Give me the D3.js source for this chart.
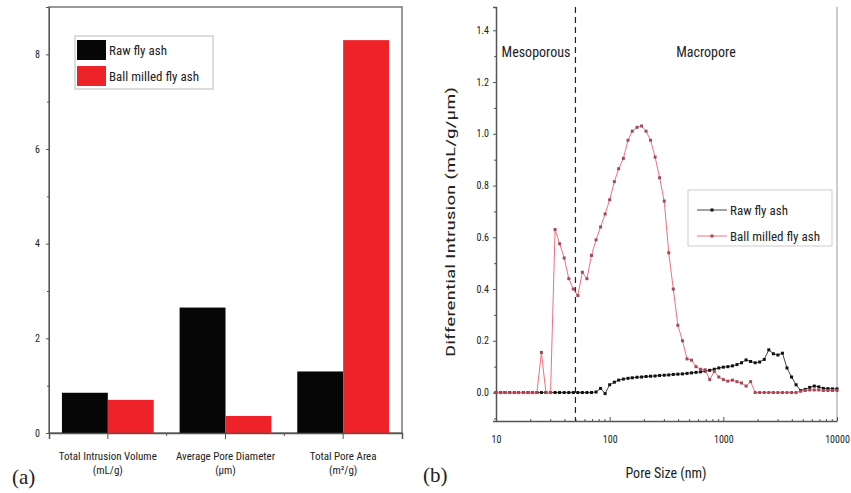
<!DOCTYPE html>
<html>
<head>
<meta charset="utf-8">
<script src="https://cdn.jsdelivr.net/npm/d3@7"></script>
<style>
  body { margin: 0; background: #fff; }
  svg { display: block; }
  text { font-family: "Liberation Sans Narrow", "Arial Narrow", "Roboto Condensed", "Liberation Sans", sans-serif; fill: #222; }
  .axis path, .axis line { stroke: #555; }
</style>
</head>
<body>
<svg width="851" height="493"></svg>
<script>
// panel (a) – bar chart
var categories = ['Total Intrusion Volume', 'Average Pore Diameter', 'Total Pore Area']
var unitLabels = ['(mL/g)', '(\u03bcm)', '(m\u00b2/g)']
var seriesNames = ['Raw fly ash', 'Ball milled fly ash']
var rawValues = [0.85, 2.65, 1.30]
var ballValues = [0.70, 0.36, 8.30]
var barTicks = [0, 2, 4, 6, 8]
var barMinorTicks = [1, 3, 5, 7]

// panel (b) – differential intrusion vs pore size (nm)
var poreSize = [10.0, 11.0, 12.0, 13.2, 14.5, 15.8, 17.4, 19.1, 20.9, 22.9,
  25.1, 27.5, 30.2, 33.1, 36.3, 39.8, 43.7, 47.9, 52.5, 57.5,
  63.1, 69.2, 75.9, 83.2, 91.2, 100, 110, 120, 132, 145,
  158, 174, 191, 209, 229, 251, 275, 302, 331, 363,
  398, 437, 479, 525, 575, 631, 692, 759, 832, 912,
  1000, 1096, 1202, 1318, 1445, 1585, 1738, 1905, 2089, 2291,
  2512, 2754, 3020, 3311, 3631, 3981, 4365, 4786, 5248, 5754,
  6310, 6918, 7586, 8318, 9120, 10000]
var rawIntrusion = [0, 0, 0, 0, 0, 0, 0, 0, 0, 0,
  0, 0, 0, 0, 0, 0, 0, 0, 0, 0,
  0, 0, 0.002, 0.016, -0.004, 0.03, 0.04, 0.048, 0.052, 0.055,
  0.057, 0.059, 0.060, 0.062, 0.063, 0.064, 0.066, 0.067, 0.068, 0.070,
  0.071, 0.072, 0.074, 0.076, 0.078, 0.080, 0.083, 0.086, 0.090, 0.095,
  0.098, 0.100, 0.103, 0.108, 0.115, 0.126, 0.120, 0.115, 0.118, 0.128,
  0.165, 0.150, 0.145, 0.152, 0.095, 0.060, 0.030, 0.008, 0.012, 0.020,
  0.025, 0.022, 0.016, 0.015, 0.014, 0.014]
var ballIntrusion = [0, 0, 0, 0, 0, 0, 0, 0, 0, 0,
  0.155, 0, 0, 0.63, 0.575, 0.52, 0.44, 0.40, 0.375, 0.465,
  0.44, 0.53, 0.59, 0.64, 0.69, 0.745, 0.815, 0.865, 0.905, 0.975,
  1.01, 1.025, 1.03, 1.01, 0.975, 0.91, 0.83, 0.74, 0.54, 0.40,
  0.26, 0.20, 0.13, 0.125, 0.10, 0.09, 0.088, 0.05, 0.082, 0.06,
  0.05, 0.044, 0.048, 0.042, 0.037, 0.025, 0.042, 0, 0, 0,
  0, 0, 0, 0, 0, 0, 0, 0.005, 0.008, 0.01,
  0.01, 0.01, 0.008, 0.008, 0.008, 0.008]
var intrusionTicks = [0, 0.2, 0.4, 0.6, 0.8, 1.0, 1.2, 1.4]
var intrusionMinor = [-0.1, 0.1, 0.3, 0.5, 0.7, 0.9, 1.1, 1.3]
var sizeTicks = [10, 100, 1000, 10000]
var boundary = 50

var colors = ['#060606', '#ee2229']
var svg = d3.select('svg')

// ---------- (a) ----------
var xa = d3.scaleBand().domain(categories).range([49, 402]).paddingInner(0.22).paddingOuter(0.11)
var xs = d3.scaleBand().domain(seriesNames).range([0, xa.bandwidth()])
var ya = d3.scaleLinear().domain([0, 9]).range([433, 7])

var ga = svg.append('g')
ga.append('rect').attr('x', 49).attr('y', 7).attr('width', 353).attr('height', 426)
  .attr('fill', 'none').attr('stroke', '#777').attr('stroke-width', 1.5)

var groups = ga.selectAll('g.grp').data(categories).enter().append('g')
  .attr('transform', (d) => 'translate(' + xa(d) + ',0)')
groups.selectAll('rect').data((d, i) => [rawValues[i], ballValues[i]]).enter()
  .append('rect')
    .attr('x', (d, j) => xs(seriesNames[j]))
    .attr('width', xs.bandwidth())
    .attr('y', (d) => ya(d))
    .attr('height', (d) => ya(0) - ya(d))
    .attr('fill', (d, j) => colors[j])

ga.append('g').attr('class', 'axis').attr('transform', 'translate(49,0)')
  .call(d3.axisLeft(ya).tickValues(barTicks).tickSize(3).tickPadding(6).tickFormat(d3.format('d')))
  .call((g) => g.selectAll('text').style('font-size', '10px'))
ga.append('g').attr('class', 'axis').attr('transform', 'translate(49,0)')
  .call(d3.axisLeft(ya).tickValues(barMinorTicks).tickSize(2).tickFormat(''))

var xaAxis = ga.append('g').attr('class', 'axis').attr('transform', 'translate(0,433)')
  .call(d3.axisBottom(xa).tickSize(6).tickFormat(''))
xaAxis.select('path').attr('stroke-width', 1.5)
// minor ticks between categories
ga.selectAll('line.mt').data(categories.slice(1)).enter().append('line')
  .attr('x1', (d) => xa(d) - xa.step() * xa.paddingInner() / 2)
  .attr('x2', (d) => xa(d) - xa.step() * xa.paddingInner() / 2)
  .attr('y1', 433).attr('y2', 436).attr('stroke', '#555')

ga.selectAll('text.cat').data(categories).enter().append('text')
  .attr('x', (d) => xa(d) + xa.bandwidth() / 2).attr('y', 460)
  .attr('text-anchor', 'middle').style('font-size', '11px').text((d) => d)
ga.selectAll('text.unit').data(unitLabels).enter().append('text')
  .attr('x', (d, i) => xa(categories[i]) + xa.bandwidth() / 2).attr('y', 474)
  .attr('text-anchor', 'middle').style('font-size', '11px').text((d) => d)

var la = ga.append('g')
la.append('rect').attr('x', 75).attr('y', 36).attr('width', 138).attr('height', 53)
  .attr('fill', '#fff').attr('stroke', '#bbb')
seriesNames.forEach((s, i) => {
  la.append('rect').attr('x', 77).attr('y', 40 + i * 26).attr('width', 29).attr('height', 20).attr('fill', colors[i])
  la.append('text').attr('x', 109).attr('y', 55 + i * 26).style('font-size', '13px').text(s)
})

svg.append('text').attr('x', 12).attr('y', 484)
  .style('font-family', '"Liberation Serif", "DejaVu Serif", serif').style('font-size', '21px').text('(a)')

// ---------- (b) ----------
var xb = d3.scaleLog().domain([10, 10000]).range([496, 837])
var yb = d3.scaleLinear().domain([-0.11, 1.49]).range([421, 7])
var gb = svg.append('g')

gb.append('line').attr('x1', 837).attr('x2', 837).attr('y1', 7).attr('y2', 421).attr('stroke', '#999')

gb.append('g').attr('class', 'axis').attr('transform', 'translate(496,0)')
  .call(d3.axisLeft(yb).tickValues(intrusionTicks).tickSize(3).tickPadding(4).tickFormat(d3.format('.1f')))
  .call((g) => g.selectAll('text').style('font-size', '10px'))
  .call((g) => g.select('path').attr('stroke-width', 1.5))
gb.append('g').attr('class', 'axis').attr('transform', 'translate(496,0)')
  .call(d3.axisLeft(yb).tickValues(intrusionMinor).tickSize(2).tickFormat(''))

gb.append('g').attr('class', 'axis').attr('transform', 'translate(0,421)')
  .call(d3.axisBottom(xb).tickValues(sizeTicks).tickSizeInner(-4).tickSizeOuter(0).tickPadding(15).tickFormat(d3.format('d')))
  .call((g) => g.selectAll('text').style('font-size', '10px'))
  .call((g) => g.select('path').attr('stroke-width', 1.5))
gb.append('g').attr('class', 'axis').attr('transform', 'translate(0,421)')
  .call(d3.axisBottom(xb).tickValues(xb.ticks().filter((d) => sizeTicks.indexOf(d) < 0)).tickSizeInner(-2).tickSizeOuter(0).tickFormat(''))
  .call((g) => g.select('path').remove())

gb.append('line').attr('x1', xb(boundary)).attr('x2', xb(boundary)).attr('y1', 7).attr('y2', 421)
  .attr('stroke', '#222').attr('stroke-dasharray', '6,4').attr('stroke-width', 1.2)

gb.append('text').attr('x', 536).attr('y', 57).attr('text-anchor', 'middle')
  .style('font-size', '14px').text('Mesoporous')
gb.append('text').attr('x', 706).attr('y', 57).attr('text-anchor', 'middle')
  .style('font-size', '14px').text('Macropore')

var line = d3.line().x((d) => xb(d[0])).y((d) => yb(d[1]))
var rawPts = poreSize.map((p, i) => [p, rawIntrusion[i]])
var ballPts = poreSize.map((p, i) => [p, ballIntrusion[i]])

gb.append('path').datum(rawPts).attr('d', line).attr('fill', 'none').attr('stroke', '#444').attr('stroke-width', 1)
gb.selectAll('rect.rm').data(rawPts).enter().append('rect')
  .attr('x', (d) => xb(d[0]) - 1.5).attr('y', (d) => yb(d[1]) - 1.5)
  .attr('width', 3).attr('height', 3).attr('fill', '#111')

gb.append('path').datum(ballPts).attr('d', line).attr('fill', 'none').attr('stroke', '#f07080').attr('stroke-width', 1)
gb.selectAll('rect.bm').data(ballPts).enter().append('rect')
  .attr('x', (d) => xb(d[0]) - 1.5).attr('y', (d) => yb(d[1]) - 1.5)
  .attr('width', 3).attr('height', 3).attr('fill', '#a04a58')

var lb = gb.append('g')
lb.append('rect').attr('x', 688).attr('y', 190).attr('width', 144).attr('height', 56)
  .attr('fill', '#fff').attr('stroke', '#ccc')
var legendStyles = [['#444', '#111'], ['#f07080', '#a04a58']]
seriesNames.forEach((s, i) => {
  var yy = 210 + i * 26
  lb.append('line').attr('x1', 697).attr('x2', 727).attr('y1', yy).attr('y2', yy).attr('stroke', legendStyles[i][0])
  lb.append('rect').attr('x', 710.5).attr('y', yy - 1.5).attr('width', 3).attr('height', 3).attr('fill', legendStyles[i][1])
  lb.append('text').attr('x', 730).attr('y', yy + 5).style('font-size', '13px').text(s)
})

svg.append('text').attr('transform', 'translate(455,222) rotate(-90)').attr('text-anchor', 'middle')
  .attr('textLength', 270).attr('lengthAdjust', 'spacingAndGlyphs')
  .style('font-size', '12px').text('Differential Intrusion (mL/g/\u03bcm)')
svg.append('text').attr('x', 666).attr('y', 478).attr('text-anchor', 'middle')
  .style('font-size', '14px').text('Pore Size (nm)')
svg.append('text').attr('x', 423).attr('y', 482)
  .style('font-family', '"Liberation Serif", "DejaVu Serif", serif').style('font-size', '21px').text('(b)')
</script>
</body>
</html>
